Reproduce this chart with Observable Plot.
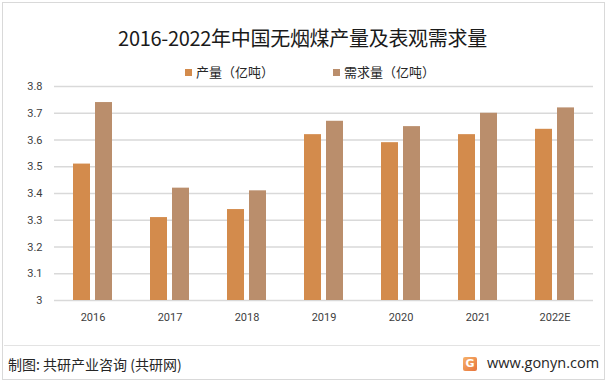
<!DOCTYPE html>
<html>
<head>
<meta charset="utf-8">
<script src="https://cdn.jsdelivr.net/npm/d3@7"></script>
<script src="https://cdn.jsdelivr.net/npm/@observablehq/plot@0.6"></script>
<style>
  html, body { margin: 0; padding: 0; background: #fff; }
  #wrap { position: relative; width: 611px; height: 384px; overflow: hidden; font-family: "Noto Sans CJK SC", "Noto Sans", sans-serif; }
  #frame { position: absolute; left: 2px; top: 2px; width: 603px; height: 378px; border: 1px solid #d9d9d9; box-sizing: border-box; }
  #title { position: absolute; left: 0; width: 605px; top: 24px; text-align: center; font-size: 20px; color: #1a1a1a; line-height: 28px; letter-spacing: -0.3px; }
  #legend { position: absolute; top: 62px; left: 0; width: 611px; height: 20px; font-size: 13px; color: #262626; }
  .lg { position: absolute; top: 0; line-height: 20px; white-space: nowrap; }
  .sw { display: inline-block; width: 7px; height: 7px; margin-right: 4px; vertical-align: 1px; }
  #chart { position: absolute; left: 0; top: 60px; }
  #sep { position: absolute; left: 4px; width: 596px; top: 345px; height: 1px; background: #e3e3e3; }
  #src { position: absolute; left: 8px; top: 354px; font-size: 14px; color: #262626; line-height: 20px; }
  #site { position: absolute; left: 487px; top: 353px; font-size: 14.5px; color: #262626; line-height: 20px; font-family: "Open Sans", "Noto Sans", sans-serif; }
  #logo { position: absolute; left: 463px; top: 357px; width: 14px; height: 14px; border-radius: 2px; background: linear-gradient(135deg, #f6b26b, #e8743b); color: #fff; font: bold 11px/14px "DejaVu Sans", sans-serif; text-align: center; }
</style>
</head>
<body>
<div id="wrap">
  <div id="frame"></div>
  <div id="title"></div>
  <div id="legend"></div>
  <div id="chart"></div>
  <div id="sep"></div>
  <div id="src">制图: 共研产业咨询 (共研网)</div>
  <div id="logo">G</div>
  <div id="site">www.gonyn.com</div>
</div>
<script>
const titleText = "2016-2022年中国无烟煤产量及表观需求量";
const years = ["2016", "2017", "2018", "2019", "2020", "2021", "2022E"];
const seriesNames = ["产量（亿吨）", "需求量（亿吨）"];
const production = [3.51, 3.31, 3.34, 3.62, 3.59, 3.62, 3.64];
const demand = [3.74, 3.42, 3.41, 3.67, 3.65, 3.70, 3.72];
const seriesColors = ["#D38B4C", "#BA8E6C"];
const yTicks = [3, 3.1, 3.2, 3.3, 3.4, 3.5, 3.6, 3.7, 3.8];
const yTickLabels = ["3", "3.1", "3.2", "3.3", "3.4", "3.5", "3.6", "3.7", "3.8"];

document.getElementById("title").textContent = titleText;

const legendPos = [185, 333];
const legend = document.getElementById("legend");
seriesNames.forEach((name, i) => {
  const d = document.createElement("div");
  d.className = "lg";
  d.style.left = legendPos[i] + "px";
  d.innerHTML = `<span class="sw" style="background:${seriesColors[i]}"></span>${name}`;
  legend.appendChild(d);
});

const data = [];
years.forEach((y, i) => {
  data.push({year: y, series: seriesNames[0], value: production[i]});
  data.push({year: y, series: seriesNames[1], value: demand[i]});
});

const chart = Plot.plot({
  width: 611,
  height: 270,
  marginTop: 26,
  marginBottom: 30,
  marginLeft: 53,
  marginRight: 18,
  style: { fontSize: "11px", fontFamily: "Roboto, 'Noto Sans', sans-serif", color: "#404040", background: "transparent", overflow: "visible" },
  fx: { domain: years, padding: 0, label: null, tickSize: 0, tickPadding: 13, axis: "bottom" },
  x: { domain: seriesNames, axis: null, paddingInner: 0.22, paddingOuter: 0.82 },
  y: { domain: [3, 3.8], ticks: yTicks, tickFormat: (d) => yTickLabels[yTicks.indexOf(d)] ?? d, tickSize: 0, tickPadding: 12, label: null },
  color: { domain: seriesNames, range: seriesColors },
  marks: [
    Plot.ruleY(yTicks, { stroke: "#d9d9d9", strokeWidth: 1.3 }),
    Plot.barY(data, { fx: "year", x: "series", y1: 3, y2: "value", fill: "series" })
  ]
});
document.getElementById("chart").appendChild(chart);
</script>
</body>
</html>
